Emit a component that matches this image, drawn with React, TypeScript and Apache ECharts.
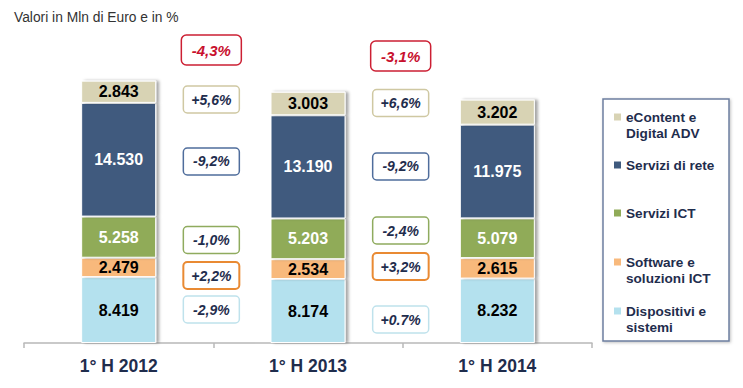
import React, { useEffect, useRef } from 'react';
import * as echarts from 'echarts';

const categories = ['1° H 2012', '1° H 2013', '1° H 2014'];
const dispositivi = [8419, 8174, 8232];
const software = [2479, 2534, 2615];
const serviziICT = [5258, 5203, 5079];
const serviziRete = [14530, 13190, 11975];
const eContent = [2843, 3003, 3202];
const totals = [33529, 32104, 31103];

const seriesNames = ['Dispositivi e sistemi', 'Software e soluzioni ICT', 'Servizi ICT', 'Servizi di rete', 'eContent e Digital ADV'];
const legendLabels = ['eContent e\nDigital ADV', 'Servizi di rete', 'Servizi ICT', 'Software e\nsoluzioni ICT', 'Dispositivi e\nsistemi'];

const changeTotal = ['-4,3%', '-3,1%'];
const changeEContent = ['+5,6%', '+6,6%'];
const changeRete = ['-9,2%', '-9,2%'];
const changeICT = ['-1,0%', '-2,4%'];
const changeSoftware = ['+2,2%', '+3,2%'];
const changeDispositivi = ['-2,9%', '+0.7%'];

// layout: vertical anchor of each annotation box, in axis units, per gap
const annoLevels = [
  [37444, 31118, 23195, 13163, 8626, 4281],
  [36677, 30671, 22556, 14377, 9776, 3003],
];

const FONT = '"Liberation Sans", Arial, Helvetica, sans-serif';
const COLORS = {
  dispositivi: '#b4e1ee',
  software: '#f8b97c',
  ict: '#90ab58',
  rete: '#3f5a7e',
  econtent: '#d8d3b4',
};
const NAVY = '#1f2d4d';

const fmt = (v: number) => String(v).replace(/\B(?=(\d{3})+(?!\d))/g, '.');

export default function App() {
  const ref = useRef<HTMLDivElement>(null);
  useEffect(() => {
    if (!ref.current) return;
    const chart = echarts.init(ref.current, null, { renderer: 'svg' });
    const mkBar = (name: string, data: number[], color: string, labelColor: string) => ({
      name,
      type: 'bar',
      stack: 'tot',
      barWidth: 75,
      data,
      itemStyle: {
        color,
        borderColor: '#ffffff',
        borderWidth: 1,
        shadowColor: 'rgba(0,0,0,0.35)',
        shadowOffsetX: 3,
        shadowBlur: 3,
      },
      label: {
        show: true,
        position: 'inside',
        formatter: (p: any) => fmt(p.value),
        color: labelColor,
        fontFamily: FONT,
        fontWeight: 'bold',
        fontSize: 16,
      },
    });
    const option: any = {
      animation: false,
      title: {
        text: 'Valori in Mln di Euro e in %',
        left: 9,
        top: 5,
        textStyle: { fontFamily: FONT, fontSize: 13.8, fontWeight: 'normal', color: '#333333' },
      },
      grid: { left: 24, right: 151, top: 30, bottom: 45 },
      xAxis: {
        type: 'category',
        data: categories,
        axisLine: { lineStyle: { color: '#b8b8b8', width: 1.5 } },
        axisTick: { show: true, length: 5, lineStyle: { color: '#b8b8b8', width: 1.5 } },
        axisLabel: { margin: 14, fontFamily: FONT, fontWeight: 'bold', fontSize: 17.5, color: NAVY },
      },
      yAxis: { type: 'value', min: 0, max: 40000, show: false, splitLine: { show: false } },
      series: [
        mkBar(seriesNames[0], dispositivi, COLORS.dispositivi, '#000000'),
        mkBar(seriesNames[1], software, COLORS.software, '#000000'),
        mkBar(seriesNames[2], serviziICT, COLORS.ict, '#ffffff'),
        mkBar(seriesNames[3], serviziRete, COLORS.rete, '#ffffff'),
        mkBar(seriesNames[4], eContent, COLORS.econtent, '#000000'),
        {
          name: 'Totale',
          type: 'scatter',
          data: totals,
          symbolSize: 0,
          itemStyle: { opacity: 0 },
          label: {
            show: true,
            position: 'top',
            distance: 12,
            formatter: (p: any) => fmt(p.value),
            color: '#1f3050',
            fontFamily: FONT,
            fontWeight: 'bold',
            fontSize: 17.5,
          },
        },
      ],
    };
    chart.setOption(option);

    const elements: any[] = [];
    // legend box
    const lx = 603, ly = 99, lw = 126, lh = 242;
    elements.push({
      type: 'rect',
      shape: { x: lx, y: ly, width: lw, height: lh },
      style: { fill: '#ffffff', stroke: '#6d7fa0', lineWidth: 1.5, shadowColor: 'rgba(0,0,0,0.25)', shadowBlur: 3, shadowOffsetX: 1, shadowOffsetY: 1 },
    });
    const legendColors = [COLORS.econtent, COLORS.rete, COLORS.ict, COLORS.software, COLORS.dispositivi];
    const legendCenters = [117, 165, 213, 262, 311];
    legendLabels.forEach((t, i) => {
      const cy = legendCenters[i];
      elements.push({ type: 'rect', shape: { x: 614, y: cy - 3.5, width: 7, height: 7 }, style: { fill: legendColors[i] } });
      elements.push({
        type: 'text',
        x: 626,
        y: cy - 8,
        style: { text: t, fill: NAVY, font: `bold 13.6px ${FONT}`, lineHeight: 16, verticalAlign: 'top', align: 'left' },
      });
    });

    // annotation boxes
    const groups = [changeTotal, changeEContent, changeRete, changeICT, changeSoftware, changeDispositivi];
    const strokes = ['#cc1f33', '#cfc8a2', '#4f6d9c', '#8fab5e', '#e98a33', '#bfe2ec'];
    for (let g = 0; g < 2; g++) {
      const p0 = chart.convertToPixel({ gridIndex: 0 }, [g, 0]) as number[];
      const p1 = chart.convertToPixel({ gridIndex: 0 }, [g + 1, 0]) as number[];
      const cx = (p0[0] + p1[0]) / 2 - 2;
      groups.forEach((arr, k) => {
        const py = (chart.convertToPixel({ gridIndex: 0 }, [g, annoLevels[g][k]]) as number[])[1];
        const isRed = k === 0;
        const w = isRed ? 60 : 56;
        const h = isRed ? 30 : 27;
        elements.push({
          type: 'rect',
          shape: { x: cx - w / 2, y: py - h / 2, width: w, height: h, r: isRed ? 5 : 4 },
          style: { fill: '#ffffff', stroke: strokes[k], lineWidth: k === 4 ? 2 : 1.5 },
        });
        elements.push({
          type: 'text',
          x: cx,
          y: py,
          style: {
            text: arr[g],
            fill: isRed ? '#c8102e' : NAVY,
            font: `italic bold ${isRed ? 15 : 14}px ${FONT}`,
            align: 'center',
            verticalAlign: 'middle',
          },
        });
      });
    }
    chart.setOption({ graphic: elements });
    return () => chart.dispose();
  }, []);
  return <div ref={ref} style={{ position: 'fixed', left: 0, top: 0, width: 743, height: 388, background: '#ffffff' }} />;
}
